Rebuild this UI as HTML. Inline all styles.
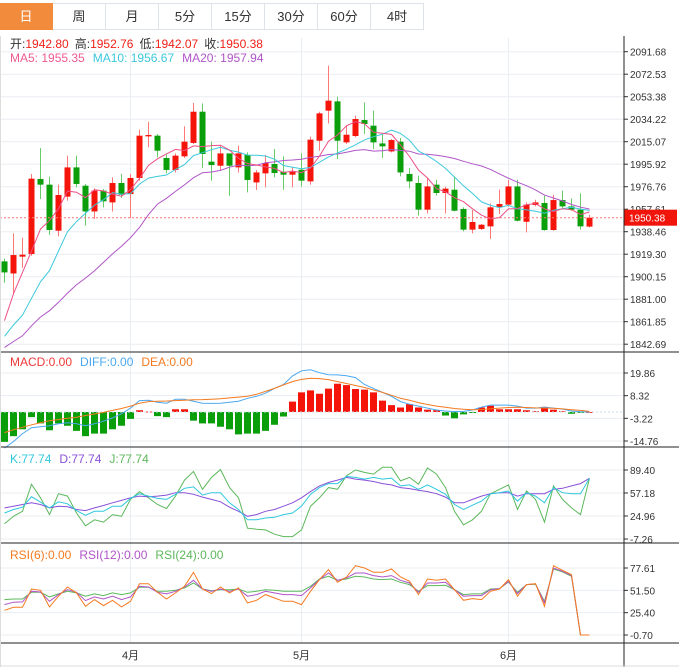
<!DOCTYPE html>
<html><head><meta charset="utf-8">
<style>
body{margin:0;background:#fff;width:679px;height:667px;overflow:hidden;font-family:"Liberation Sans","Noto Sans CJK SC",sans-serif;}
#tabs{position:absolute;left:0;top:3px;height:26px;display:flex;}
.tab{width:52px;height:25px;border:1px solid #dde3e8;border-left:none;font-size:13px;color:#333;text-align:center;line-height:25px;background:#fff;}
.tab.on{background:#f28c3c;color:#fff;border-color:#f28c3c;}
svg{position:absolute;left:0;top:0;}
</style></head><body>
<div id="tabs">
<div class="tab on">日</div>
<div class="tab">周</div>
<div class="tab">月</div>
<div class="tab">5分</div>
<div class="tab">15分</div>
<div class="tab">30分</div>
<div class="tab">60分</div>
<div class="tab">4时</div>
</div>
<svg id="chart" width="679" height="667" style="top:0;pointer-events:none"></svg>
<script>
const opens=[1913.2,1902.9,1917.2,1919.5,1983.3,1978.5,1939.3,1968.3,1993.2,1977.6,1955.7,1973.4,1963.4,1979.9,1970.5,1984.2,2019.6,2020.2,2001.2,1991.0,2002.6,2014.0,2040.6,1998.1,1994.6,2005.1,1993.2,2003.8,1980.4,1988.1,1996.1,1989.5,1987.0,1991.2,1981.3,2015.9,2041.5,2049.4,2014.5,2019.9,2033.5,2028.7,2013.6,2006.8,2015.1,1987.6,1979.9,1957.2,1978.5,1971.4,1974.2,1957.8,1940.2,1940.8,1943.0,1959.2,1961.5,1977.0,1946.9,1961.2,1962.9,1939.9,1965.4,1960.0,1957.2,1942.80];
const highs=[1915.5,1937.0,1933.3,1987.6,2009.7,1985.3,1978.5,2003.2,2003.2,1979.1,1975.3,1974.8,1984.7,1987.6,1987.6,2025.3,2032.1,2021.6,2004.0,2005.1,2028.1,2048.0,2047.7,2015.1,2011.7,2005.1,2011.7,2006.0,1991.0,2003.8,2008.9,2002.6,1993.2,2005.1,2019.3,2040.6,2079.8,2053.4,2028.7,2037.2,2048.5,2041.5,2021.6,2017.4,2018.2,1992.7,1986.1,1984.2,1982.7,1976.8,1985.3,1959.2,1956.9,1945.0,1962.5,1974.2,1982.7,1982.7,1963.4,1965.7,1969.1,1969.9,1973.4,1966.8,1971.1,1952.76];
const lows=[1895.0,1885.7,1907.8,1918.0,1966.3,1935.7,1934.5,1964.9,1976.2,1943.6,1949.3,1959.2,1955.7,1967.1,1950.1,1981.9,2010.2,2001.7,1988.1,1988.9,2001.2,2013.1,1992.7,1981.9,1990.4,1969.1,1988.9,1971.9,1974.0,1976.2,1984.7,1974.2,1976.2,1976.8,1978.5,2007.4,2030.6,2000.3,2013.1,2018.7,2021.6,2008.9,2001.2,2006.0,1985.5,1975.3,1952.1,1954.0,1969.1,1954.0,1955.7,1938.7,1937.0,1939.9,1932.3,1953.5,1959.7,1947.2,1937.9,1960.0,1939.3,1939.3,1957.2,1956.3,1940.2,1942.07];
const closes=[1903.8,1918.6,1918.9,1983.6,1978.5,1939.9,1969.7,1993.2,1979.1,1955.7,1973.4,1964.3,1979.9,1969.9,1984.2,2020.2,2020.8,2007.4,1991.0,2003.2,2015.1,2040.6,2004.6,1995.2,2005.1,1994.6,2005.1,1982.5,1988.9,1996.9,1988.4,1987.0,1989.5,1981.9,2016.8,2039.2,2050.0,2015.9,2021.0,2034.4,2030.1,2014.5,2011.1,2016.5,1988.9,1981.3,1957.2,1977.0,1971.4,1975.1,1956.3,1940.2,1946.7,1944.4,1959.2,1962.0,1977.0,1947.8,1961.5,1963.4,1939.9,1965.4,1960.0,1957.2,1943.0,1950.38];
const prevCloses=[1818,1823,1813,1828,1833,1826,1838,1836,1843,1848,1822,1835,1840,1838,1845,1804,1828,1893,1885];
const priceTicks=[2091.68,2072.53,2053.38,2034.22,2015.07,1995.92,1976.76,1957.61,1938.46,1919.30,1900.15,1881.00,1861.85,1842.69];
const macdHist=[-15.2,-12.3,-8.8,-2.6,-5.8,-9.3,-5.8,-7,-9.6,-12.3,-11,-11,-8.8,-7,-3.5,0.9,0.2,-2.1,-2.6,1.4,1.4,-4.4,-5.8,-5.8,-7.5,-8.8,-11.4,-11,-11,-9.6,-6.5,-2.3,5.3,10,11,9.3,11.9,14.4,13.7,11.7,11.4,10,5.8,3.5,2.3,4,2.3,1.2,0.9,-1.8,-3.2,-1.2,-0.5,2.3,3.2,1.4,1.4,1.4,0.9,0.4,2.6,1.2,0.4,-0.9,-0.4,0];
const diffVals=[-18.4,-15,-11,-8,-7.5,-7,-6,-5.5,-6,-7,-6,-4.7,-3,-0.9,2,5.8,6,5,4.5,6.5,6.5,5.5,4.5,4.4,4.5,5,5.5,7,8,9.6,12,14,18.4,21,21.5,20,19,18.9,18.5,17.5,14,12,10,8,5.3,4,3,2,1,0.5,0.2,0.3,1,2.5,3.5,3.5,3.5,3,2,2,2.5,2,1.5,0.5,0.2,0];
const deaVals=[-10.5,-9,-7.8,-6.5,-5.5,-4.4,-3.8,-3.2,-2.7,-1.8,-1,-0.2,0.8,1.8,3,4.5,5.3,5.5,5.6,5.8,6,6.2,6.3,6.5,6.8,7.2,7.6,8,9,10.5,12,13.8,15.5,16.6,17.2,17,16.5,15.5,14.5,13.5,12.5,11.2,10,8.5,7,6,4.8,3.8,3,2.4,1.8,1.4,1.2,1.3,1.6,2,2.3,2.4,2.3,2.1,2,1.9,1.6,1.2,0.8,0.3];
const macdTicks=[19.86,8.32,-3.22,-14.76];
const kVals=[29.2,34,37.3,52,44.4,36.3,44.9,42,32.5,25.9,31.6,31.6,38.7,38.7,49.6,56.2,52.9,49.6,48.2,55.3,63.8,65.7,54.3,57.6,57.6,43.4,34,19.7,19.7,22.1,23.1,26.9,29.2,38.7,55.3,64.8,70.4,70.4,80.4,79,76.6,79,76.6,78,67.1,68.5,62.4,68.5,62.4,55.3,41,34,40.1,45.8,56.2,57.6,60,45.8,57.6,52.9,43.4,64.8,57.6,56.2,56.2,77.74];
const dVals=[36.3,38.7,41,43.4,41,36.3,38.7,37.8,34,32.5,36.3,39.6,43.4,46.8,50.5,52.9,52,52.9,54.3,57.6,57.6,55.3,51.5,48.2,44.9,37.3,31.6,24.5,26.9,31.6,34,38.7,43.4,50.5,59.1,67.1,71.9,75.2,79,76.6,75.2,73.3,70.4,68.5,64.8,63.3,61,59.1,56.2,51.5,43.4,43.4,48.2,52.9,56.2,57.6,57.6,52.9,56.2,56.2,56.2,62.4,63.8,67.1,70.4,77.74];
const jVals=[14.1,24.5,31.6,69.5,50.5,26.9,56.2,52.9,29.2,11.2,19.7,16.4,26.9,24.5,48.2,59.1,50.5,41,35.3,52.9,75.2,87.5,62.4,79,89.9,64.8,50.5,7.9,6.5,5.5,-0.6,-3.9,-3.9,5.5,38.7,50.5,64.8,62.4,81.3,89.4,86.1,83.7,93.2,93.2,74.2,79,69.5,92.2,83.7,64.8,31.6,12.6,19.7,31.6,56.2,62.4,68.5,34,60,48.2,16.4,67.1,48.2,36.3,26.9,77.74];
const kdjTicks=[89.40,57.18,24.96,-7.26];
const rsi6=[28.2,31.7,31.7,53.1,51.5,32.1,44.6,55.4,48.5,32.9,40.7,33.7,39.9,32.1,38.7,59.3,59.3,49.2,41.4,48.5,56.2,72.6,53.1,47.7,55.4,48.5,54.3,36.8,39.9,46.5,42.6,38.7,38.7,34.8,50.4,64,75.7,60.9,67.1,80.3,77.6,72.6,72.6,76.4,67.1,62.1,46.5,64.8,63.2,64.8,52.3,39.9,41.8,40.7,50.4,53.1,64,44.6,58.2,59.3,32.9,80.3,74.9,69.8,-0.7,-0.7];
const rsi12=[34.8,37.6,38,50.4,49.6,38.7,46.5,52.3,49.2,39.5,43.8,41.4,44.6,40.7,43.8,56.2,55.4,49.2,47.3,50.4,55.4,63.2,53.1,50.4,53.1,50.4,53.1,44.6,46.5,50.4,48.5,46.5,46.5,45.3,54.3,64,71.8,63.2,66,71.8,71.8,68.7,67.1,68.7,63.2,60.1,49.2,60.1,60.1,60.9,52.3,44.6,45.3,45.3,52.3,53.5,62.1,47.7,58.2,59,36.8,77.6,73.7,68.7,-0.7,-0.7];
const rsi24=[40.7,41.4,41.4,49.2,49.2,43.8,47.3,50.4,48.5,44.6,47.3,45.3,48.5,46.5,48.5,55.1,55.1,50.4,50.4,51.5,54.3,60.1,53.1,51.1,52.3,52.3,53.1,49.2,50.4,52.3,51.5,50.4,50.4,50.4,56.2,64.8,67.9,63.2,64.8,67.9,67.1,64.8,64,64.8,60.9,58.2,50.4,57,57,57.4,52.3,46.5,47.3,47.3,53.1,53.5,61.3,49.2,58.2,58.6,38.7,76.4,73,67.9,-0.7,-0.7];
const rsiTicks=[77.61,51.50,25.40,-0.70];
const monthLabels=["4月","5月","6月"];
const monthIdx=[14,33,56];

const NS="http://www.w3.org/2000/svg";
const svg=document.getElementById('chart');
const AX=624;
const xOf=i=>4.5+9*i;
const pY=v=>51.7+(2091.68-v)*(22.5/19.153);
const mY=v=>373+(19.86-v)*(68/34.62);
const kY=v=>470+(89.40-v)*(69/96.66);
const rY=v=>568+(77.61-v)*(67/78.31);
function mk(tag,attrs,name,inter){const e=document.createElementNS(NS,tag);for(const k in attrs)e.setAttribute(k,attrs[k]);


svg.appendChild(e);return e;}
function txt(x,y,s,fill,size,name,anchor){const t=mk('text',{x:x,y:y,fill:fill,'font-size':size,'text-anchor':anchor||'start','font-family':'"Liberation Sans","Noto Sans CJK SC",sans-serif'},name,false);t.textContent=s;return t;}
function axisTicks(ticks,fy,name){ticks.forEach(v=>{const y=fy(v);
mk('line',{x1:0,x2:AX,y1:y,y2:y,stroke:'#e9eef2','stroke-width':1},name+'-gridline',false);
mk('line',{x1:AX,x2:AX+4,y1:y,y2:y,stroke:'#333','stroke-width':1},name+'-tick',false);
txt(AX+6,y+4,v.toFixed(2),'#333',10,name+'-tick-label');});}
function poly(vals,fy,color,name,w){const pts=vals.map((v,i)=>xOf(i).toFixed(1)+','+fy(v).toFixed(1)).join(' ');
mk('polyline',{points:pts,fill:'none',stroke:color,'stroke-width':w||1},name,false);}
// month gridlines
monthIdx.forEach((mi,k)=>{const x=xOf(mi)+(k==0?0:0);
mk('line',{x1:x,x2:x,y1:38,y2:643,stroke:'#e9eef2','stroke-width':1},'month-gridline',false);
txt(x,659,monthLabels[k],'#333',11,'x-axis-month-label','middle');});
axisTicks(priceTicks,pY,'price-axis');
axisTicks(macdTicks,mY,'macd-axis');
axisTicks(kdjTicks,kY,'kdj-axis');
axisTicks(rsiTicks,rY,'rsi-axis');
// MAs
const all=prevCloses.concat(closes);const off=prevCloses.length;
function ma(n){return closes.map((c,i)=>{let s=0,cnt=0;for(let j=i+off;j>i+off-n&&j>=0;j--){s+=all[j];cnt++;}return s/cnt;});}
// candles
closes.forEach((c,i)=>{const o=opens[i],up=c>=o,col=up?'#f5140a':'#0a9e0a',x=xOf(i);
mk('line',{x1:x,x2:x,y1:pY(highs[i]),y2:pY(lows[i]),stroke:up?'#f77':'#6c6','stroke-width':1},'candle-wick',false);
const y1=pY(Math.max(o,c)),y2=pY(Math.min(o,c));
mk('rect',{x:x-3,y:y1,width:6,height:Math.max(1,y2-y1),fill:col},'candle-body',true);});
poly(ma(20),pY,'#b055c8','ma20-line');
poly(ma(10),pY,'#3cc8dc','ma10-line');
poly(ma(5),pY,'#ee4f86','ma5-line');
// last price line
const ly=pY(closes[closes.length-1]);
mk('line',{x1:0,x2:AX,y1:ly,y2:ly,stroke:'#f77','stroke-width':1,'stroke-dasharray':'2,2'},'last-price-line',false);
mk('rect',{x:AX,y:ly-8,width:53,height:16,fill:'#f0140a'},'last-price-badge',false);
txt(AX+5,ly+4,closes[closes.length-1].toFixed(2),'#fff',10,'last-price-label');
// MACD
const z=mY(0);
macdHist.forEach((v,i)=>{const y=mY(v);mk('rect',{x:xOf(i)-3.5,y:Math.min(y,z),width:7,height:Math.max(0.8,Math.abs(y-z)),fill:v>=0?'#f5140a':'#0a9e0a'},'macd-bar',false);});
mk('line',{x1:0,x2:AX,y1:z,y2:z,stroke:'#cde','stroke-width':1,'stroke-dasharray':'2,2'},'macd-zero-line',false);
poly(diffVals,mY,'#4aa8f0','diff-line');
poly(deaVals,mY,'#f47a20','dea-line');
// KDJ
poly(jVals,kY,'#5cb85c','j-line');
poly(dVals,kY,'#8a50d8','d-line');
poly(kVals,kY,'#2ec8dc','k-line');
// RSI
poly(rsi24,rY,'#5cb85c','rsi24-line');
poly(rsi12,rY,'#b055c8','rsi12-line');
poly(rsi6,rY,'#f47a20','rsi6-line');
// panel borders
[352,447,543,643].forEach(y=>mk('line',{x1:0,x2:679,y1:y,y2:y,stroke:'#222','stroke-width':1},'panel-separator',false));
mk('line',{x1:AX,x2:AX,y1:36,y2:667,stroke:'#222','stroke-width':1},'y-axis-line',false);
mk('line',{x1:0,x2:679,y1:666,y2:666,stroke:'#ddd','stroke-width':1},'bottom-border',false);
mk('line',{x1:0.5,x2:0.5,y1:36,y2:667,stroke:'#ddd','stroke-width':1},'left-border',false);
// legends
const t1=txt(10,48,'','#333',12,'ohlc-legend');
t1.innerHTML='<tspan fill="#333">开:</tspan><tspan fill="#f0201a">1942.80</tspan><tspan fill="#333" dx="6">高:</tspan><tspan fill="#f0201a">1952.76</tspan><tspan fill="#333" dx="6">低:</tspan><tspan fill="#f0201a">1942.07</tspan><tspan fill="#333" dx="6">收:</tspan><tspan fill="#f0201a">1950.38</tspan>';
const t2=txt(10,62,'','#333',12,'ma-legend');
t2.innerHTML='<tspan fill="#ee5a8f">MA5: 1955.35</tspan><tspan fill="#3cc8dc" dx="8">MA10: 1956.67</tspan><tspan fill="#b055c8" dx="8">MA20: 1957.94</tspan>';
const t3=txt(10,366,'','#333',12,'macd-legend');
t3.innerHTML='<tspan fill="#f03a3a">MACD:0.00</tspan><tspan fill="#4aa8f0" dx="8">DIFF:0.00</tspan><tspan fill="#f47a20" dx="8">DEA:0.00</tspan>';
const t4=txt(10,463,'','#333',12,'kdj-legend');
t4.innerHTML='<tspan fill="#2ec8dc">K:77.74</tspan><tspan fill="#8a50d8" dx="8">D:77.74</tspan><tspan fill="#5cb85c" dx="8">J:77.74</tspan>';
const t5=txt(10,559,'','#333',12,'rsi-legend');
t5.innerHTML='<tspan fill="#f47a20">RSI(6):0.00</tspan><tspan fill="#b055c8" dx="8">RSI(12):0.00</tspan><tspan fill="#5cb85c" dx="8">RSI(24):0.00</tspan>';
</script>
</body></html>
